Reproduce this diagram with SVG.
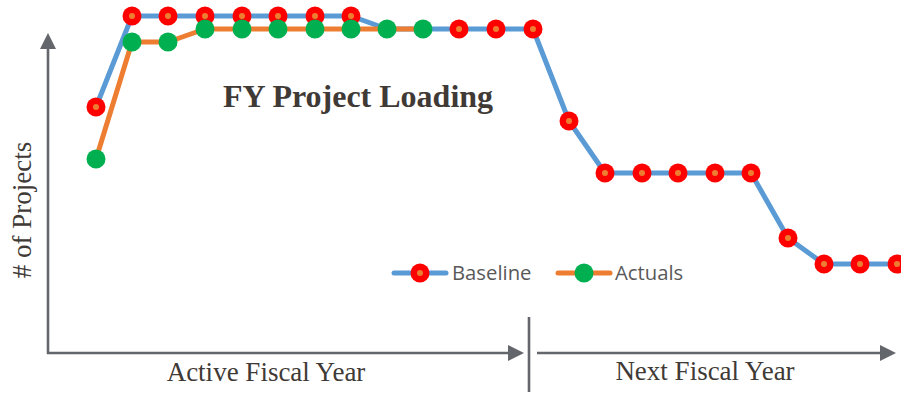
<svg xmlns="http://www.w3.org/2000/svg" width="901" height="396" viewBox="0 0 901 396">
<defs>
<style>
.ax{stroke:#63666A;stroke-width:2.6;fill:none}
.ah{fill:#63666A}
.bl{stroke:#5B9BD5;stroke-width:5;fill:none;stroke-linejoin:round;stroke-linecap:round}
.ac{stroke:#ED7D31;stroke-width:5;fill:none;stroke-linejoin:round;stroke-linecap:round}
.serif{font-family:"Liberation Serif","Times New Roman",serif;fill:#3F3A36}
.leg{font-family:"Open Sans","Liberation Sans",Arial,sans-serif;font-size:20.3px;fill:#595959}
</style>
<g id="bm"><circle r="9.5" fill="#FF0000"/><circle r="3" fill="#ED7D31"/></g>
<g id="gm"><circle r="9.5" fill="#00B050"/></g>
</defs>
<rect width="901" height="396" fill="#fff"/>
<g id="axes">
<line class="ax" x1="48" y1="46" x2="48" y2="354"/>
<polygon class="ah" points="40,49 48,33 56,49"/>
<line class="ax" x1="47" y1="353" x2="510" y2="353"/>
<polygon class="ah" points="508,345 524,353 508,361"/>
<line class="ax" x1="529" y1="317" x2="529" y2="392"/>
<line class="ax" x1="537" y1="353" x2="882" y2="353"/>
<polygon class="ah" points="880,345 896,353 880,361"/>
</g>
<g id="connectors">
<polyline class="bl" points="96,107 132,16 168,16 205,16 242,16 278,16 315,16 351,16 387,29 423,29 459,29 496,29 533,29 569,121 605,173 642,173 678,173 715,173 751,173 788,238 824,264 860,264 897,264 905,264"/>
<polyline class="ac" points="96,159 132,42 168,42 205,29 242,29 278,29 315,29 351,29 387,29 423,29"/>
</g>
<g id="baseline-markers">
<use href="#bm" x="96" y="107"/><use href="#bm" x="132" y="16"/><use href="#bm" x="168" y="16"/><use href="#bm" x="205" y="16"/><use href="#bm" x="242" y="16"/><use href="#bm" x="278" y="16"/><use href="#bm" x="315" y="16"/><use href="#bm" x="351" y="16"/>
<use href="#bm" x="459" y="29"/><use href="#bm" x="496" y="29"/><use href="#bm" x="533" y="29"/><use href="#bm" x="569" y="121"/><use href="#bm" x="605" y="173"/><use href="#bm" x="642" y="173"/><use href="#bm" x="678" y="173"/><use href="#bm" x="715" y="173"/><use href="#bm" x="751" y="173"/><use href="#bm" x="788" y="238"/><use href="#bm" x="824" y="264"/><use href="#bm" x="860" y="264"/><use href="#bm" x="897" y="264"/>
</g>
<g id="actual-markers">
<use href="#gm" x="96" y="159"/><use href="#gm" x="132" y="42"/><use href="#gm" x="168" y="42"/><use href="#gm" x="205" y="29"/><use href="#gm" x="242" y="29"/><use href="#gm" x="278" y="29"/><use href="#gm" x="315" y="29"/><use href="#gm" x="351" y="29"/><use href="#gm" x="387" y="29"/><use href="#gm" x="423" y="29"/>
</g>
<g id="title"><text class="serif" x="358" y="107" font-size="32" font-weight="bold" text-anchor="middle">FY Project Loading</text></g>
<g id="y-label"><text class="serif" transform="translate(31,210) rotate(-90)" font-size="27" text-anchor="middle"># of Projects</text></g>
<g id="x-label-1"><text class="serif" x="266" y="381" font-size="27" text-anchor="middle">Active Fiscal Year</text></g>
<g id="x-label-2"><text class="serif" x="705" y="380" font-size="27" text-anchor="middle">Next Fiscal Year</text></g>
<g id="legend">
<line class="bl" x1="394" y1="273" x2="446" y2="273"/><use href="#bm" x="420" y="273"/>
<text class="leg" x="452" y="280">Baseline</text>
<line class="ac" x1="558" y1="273" x2="610" y2="273"/><use href="#gm" x="584" y="273"/>
<text class="leg" x="615" y="280">Actuals</text>
</g>
</svg>
